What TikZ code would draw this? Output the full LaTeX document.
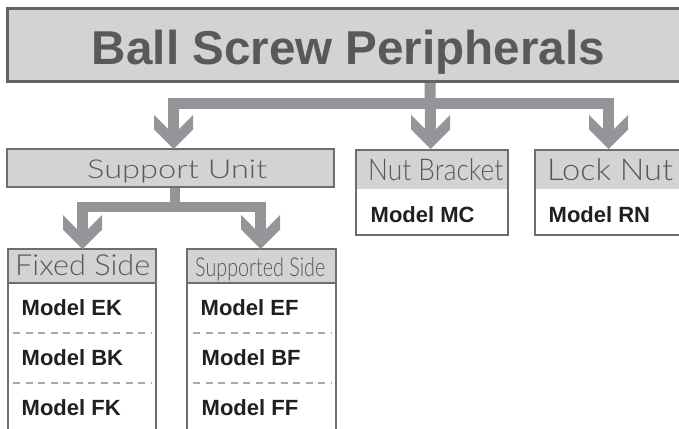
\documentclass[tikz,border=0pt]{standalone}
\usepackage{fontspec}
\usepackage{graphicx}
\setmainfont{Liberation Sans}
\newfontfamily\lightfont{Lato}[UprightFont=* Light]
\usetikzlibrary{calc}
\definecolor{hdrfill}{HTML}{D1D3D4}
\definecolor{bordergray}{HTML}{6D6E71}
\definecolor{titleborder}{HTML}{626365}
\definecolor{conngray}{HTML}{939598}
\definecolor{titletext}{HTML}{58595B}
\definecolor{hdrtext}{HTML}{58595B}
\definecolor{modeltext}{HTML}{231F20}
\definecolor{dashgray}{HTML}{A7A9AC}
\newcommand\chevhead[1]{\fill[conngray] (#1) -- ++(-19.5,-19.5) -- ++(0,-14.5) -- ++(14,14) -- ++(11,0) -- ++(14,-14) -- ++(0,14.5) -- cycle;}
\begin{document}
\begin{tikzpicture}[x=1pt,y=-1pt,
  box/.style={draw=bordergray, line width=2pt, inner sep=0pt, outer sep=0pt, anchor=north west},
  hdrbox/.style={box, path picture={\fill[hdrfill] (path picture bounding box.north west) rectangle ([yshift=-#1]path picture bounding box.north east);}},
  connline/.style={draw=conngray, line width=11pt, line join=miter, line cap=butt},
  hdrtxt/.style={inner sep=0pt, anchor=base west, text=hdrtext},
  modeltxt/.style={inner sep=0pt, anchor=base west, text=modeltext, font=\fontsize{22}{24}\selectfont\bfseries},
  dashline/.style={draw=dashgray, line width=1.5pt, dash pattern=on 7pt off 5.5pt}]
\useasboundingbox (0,0) rectangle (679,428);
\clip (0,0) rectangle (679,428);
% boxes
\node[box, draw=titleborder, line width=3pt, fill=hdrfill, minimum width=682pt, minimum height=73pt] (tb) at (7.5,8.5) {};
\node[box, fill=hdrfill, minimum width=327pt, minimum height=38pt] (su) at (7,149) {};
\node[hdrbox=39pt, fill=white, minimum width=152pt, minimum height=85pt] (nb) at (356,150) {};
\node[hdrbox=39pt, fill=white, minimum width=165pt, minimum height=85pt] (ln) at (535,150) {};
\node[hdrbox=33.5pt, fill=white, minimum width=148pt, minimum height=191pt] (fs) at (8,249) {};
\node[hdrbox=33.5pt, fill=white, minimum width=149pt, minimum height=191pt] (sp) at (187,249) {};
\draw[bordergray, line width=2pt] ($(fs.north west)+(0,33.5)$) -- ($(fs.north east)+(0,33.5)$);
\draw[bordergray, line width=2pt] ($(sp.north west)+(0,33.5)$) -- ($(sp.north east)+(0,33.5)$);
% dashed separators
\draw[dashline] (13,333) -- (152,333);
\draw[dashline] (13,383) -- (152,383);
\draw[dashline] (193,333) -- (332,333);
\draw[dashline] (193,383) -- (332,383);
% connector tips and junctions
\coordinate (t1) at ($(su.north)+(3,0)$);
\coordinate (t2) at ($(nb.north)+(-1.5,-1)$);
\coordinate (t3) at ($(ln.north)+(-9,-1)$);
\coordinate (j1) at (430,103.5);
\coordinate (t4) at ($(fs.north)+(0.5,0)$);
\coordinate (t5) at ($(sp.north)+(-1,0)$);
\coordinate (j2) at (175,207);
% top connectors
\draw[connline, shorten <=1.5pt] (tb.south -| j1) -- ($(t2)+(0,-18)$);
\draw[connline] ($(t1)+(0,-18)$) |- (j1) -| ($(t3)+(0,-18)$);
\chevhead{t1}
\chevhead{t2}
\chevhead{t3}
% lower connectors
\draw[connline, line width=10.5pt, shorten <=1pt] (su.south -| j2) -- (j2);
\draw[connline, line width=10.5pt] ($(t4)+(0,-18)$) |- (j2) -| ($(t5)+(0,-18)$);
\chevhead{t4}
\chevhead{t5}
% texts
\node[inner sep=0pt, anchor=base, text=titletext, font=\fontsize{47.5}{50}\selectfont\bfseries] (ttl) at (348.5,65) {\resizebox{513pt}{\height}{Ball Screw Peripherals}};
\node[hdrtxt, font=\fontsize{26}{28}\lightfont] (hsu) at (87,178) {\resizebox{180pt}{\height}{Support Unit}};
\node[hdrtxt, font=\fontsize{30}{32}\lightfont] (hnb) at (368,180) {\resizebox{135pt}{\height}{Nut Bracket}};
\node[hdrtxt, font=\fontsize{30}{32}\lightfont] (hln) at (547,180) {\resizebox{126pt}{\height}{Lock Nut}};
\node[hdrtxt, font=\fontsize{29}{31}\lightfont] (hfs) at (15,275) {\resizebox{135pt}{\height}{Fixed Side}};
\node[hdrtxt, font=\fontsize{26}{28}\lightfont] (hsp) at (195,276) {\resizebox{130pt}{\height}{Supported Side}};
\node[modeltxt] (mc) at (370.5,222) {Model MC};
\node[modeltxt] (rn) at (548.5,222) {Model RN};
\node[modeltxt] (ek) at (21.5,315) {Model EK};
\node[modeltxt] (bk) at (21.5,365) {Model BK};
\node[modeltxt] (fk) at (21.5,415) {Model FK};
\node[modeltxt] (ef) at (200.5,315) {Model EF};
\node[modeltxt] (bf) at (201.5,365) {Model BF};
\node[modeltxt] (ff) at (201.5,415) {Model FF};
\end{tikzpicture}
\end{document}
